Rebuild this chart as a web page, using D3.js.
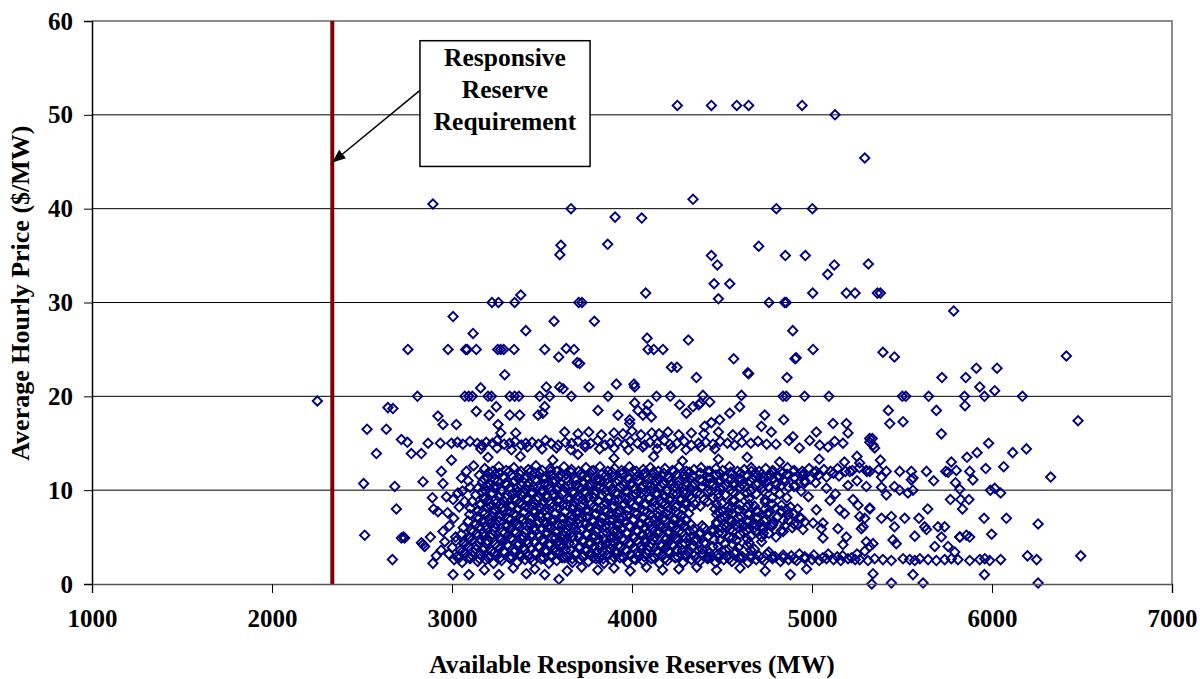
<!DOCTYPE html>
<html>
<head>
<meta charset="utf-8">
<script src="https://cdn.jsdelivr.net/npm/d3@7"></script>
<style>
  body { margin: 0; background: #fff; }
  svg text { font-family: "Liberation Serif", "Times New Roman", serif; font-weight: bold; fill: #000; }
</style>
</head>
<body>
<div id="chart"></div>
<script>
var width = 1200, height = 679;
var margin = {left: 92, right: 28, top: 21, bottom: 95};

var xTicks = [1000, 2000, 3000, 4000, 5000, 6000, 7000];
var yTicks = [0, 10, 20, 30, 40, 50, 60];
var xTitle = "Available Responsive Reserves (MW)";
var yTitle = "Average Hourly Price ($/MW)";
var requirement = 2335;
var noteLines = ["Responsive", "Reserve", "Requirement"];
var noteBox = {x0: 2822, x1: 3767, y0: 57.9, y1: 44.5, arrowFromY: 52.6, arrowToX: 2340, arrowToY: 45};

// sparse high prices
var outliers = [[2252,19.5],[2808,20.0],[2644,18.8],[2672,18.7],[2894,40.5],[3661,40.0],[3605,36.1],[3599,35.1],[3222,30.0],[3258,30.0],[3348,30.0],[3382,30.8],[3704,30.0],[3006,28.5],[3117,26.7],[3410,27.0],[3567,28.0],[2755,25.0],[2978,25.0],[3076,25.0],[3085,25.0],[3135,25.0],[3254,25.0],[3270,25.0],[3287,25.0],[3345,25.0],[3515,25.0],[3635,25.1],[3678,25.0],[3593,24.2],[3696,23.6],
[4252,51.0],[4441,51.0],[4582,51.0],[4648,51.0],[4945,51.0],[5128,50.0],[5293,45.4],[4339,41.0],[4802,40.0],[5002,40.0],[3906,39.1],[4054,39.0],[3865,36.2],[4704,36.0],[4441,35.0],[4474,34.0],[4852,35.0],[4963,35.0],[5124,34.0],[5087,33.0],[5313,34.1],[4456,32.0],[4543,32.0],[4480,30.4],[4076,31.0],[3722,30.0],[4761,30.0],[4848,30.0],[4857,30.0],[5004,31.0],[5191,31.0],[5239,31.0],[5363,31.0],[5380,31.0],[3791,28.0],[4084,26.2],[4089,25.0],[4121,25.0],[4172,25.0],[4313,26.0],[4893,27.0],[5006,25.0],[4565,24.0],[4906,24.0],[4912,24.1],[4219,23.1],[4250,23.1],[3709,23.5],[4643,22.5],
[5787,29.1],[5394,24.7],[5458,24.2],[5913,23.0],[6028,23.0],[6413,24.3],[5722,22.0],[5854,22.0],[5932,21.0],[6015,20.6],[5502,20.0],[5521,20.0],[5648,20.0],[5847,20.0],[5958,20.0],[6169,20.0],[5424,18.5],[5691,18.5],[5850,19.0],[5432,17.1],[5506,17.3],[6478,17.4],[5719,16.0],
[3159,20.9],[3071,20.0],[3093,20.0],[3113,20.0],[3200,20.0],[3219,20.0],[3321,20.0],[3348,20.0],[3372,20.0],[3293,22.3],[3135,18.4],[3206,18.0],[3246,18.9],[3321,18.0],[3376,18.0],[3487,20.0],[3543,20.0],[3524,21.0],[3598,21.0],[3617,20.8],[3515,18.9],[3478,18.0],[3505,18.2],[3663,20.0],[2922,17.9],[2950,17.0],[3024,17.0],[3256,17.0],
[4358,22.0],[4648,22.4],[4861,22.0],[3761,21.0],[3913,21.3],[4011,21.3],[4015,21.0],[3867,20.0],[3811,18.5],[3922,18.0],[3987,17.5],[3987,17.1],[4015,19.3],[4089,19.1],[4136,20.0],[4213,20.0],[4033,18.5],[4080,18.4],[4108,17.8],[4061,18.0],[4265,19.1],[4302,18.2],[4339,18.9],[4371,19.1],[4380,19.3],[4543,18.2],[4598,18.9],[4487,17.5],[4441,17.2],[4404,16.8],[4737,18.0],[4843,17.5],[4719,16.8],[4774,16.2],[5024,16.2],[5117,17.1],[5191,17.1],[5200,16.1],
[4839,20.0],[4857,20.0],[4959,20.0],[5094,20.0],[4608,20.1],[4394,20.1],[4432,19.4]];

// band around 15
var band15 = [[2528,16.5],[2635,16.5],[2580,13.9],[2719,15.4],[2752,15.1],[2774,13.9],[2830,13.9],[2867,15.0],[2935,15.0],[2997,15.0],[3271,16.1],[3354,16.1],[3626,16.2],
[3030,15.1],[3060,14.9],[3100,15.2],[3140,15.0],[3165,14.8],[3190,15.1],[3225,15.0],[3250,15.3],[3290,14.9],[3320,15.0],[3350,15.2],[3385,14.8],[3410,15.0],[3445,15.1],[3480,14.9],[3520,15.3],[3550,15.0],[3590,14.8],[3630,15.1],[3665,15.0],[3700,15.2],[3740,14.9],[3770,15.0],[3810,15.3],[3850,14.8],[3880,15.0],[3920,15.1],[3960,14.9],[3990,15.2],[4030,15.0],[4070,14.8],[4100,15.1],[4140,15.0],[4180,15.3],[4210,14.9],[4250,15.0],[4290,15.2],[4330,14.8],[4370,15.0],[4410,15.1],[4450,14.9],[4490,15.2],[4530,15.0],[4570,14.8],[4610,15.1],[4660,15.0],[4700,15.2],[4748,14.9],
[3700,16.0],[3760,16.2],[3830,15.9],[3900,16.1],[3950,16.0],[4000,16.3],[4050,15.9],[4110,16.1],[4150,16.0],[4200,16.2],[4260,15.9],[4330,16.1],[4400,16.0],[4480,16.2],[4560,15.9],[4620,16.1],
[3160,14.4],[3250,14.5],[3330,14.3],[3420,14.6],[3500,14.4],[3580,14.5],[3660,14.3],[3740,14.6],[3820,14.4],[3900,14.5],[3980,14.3],[4060,14.6],[4140,14.4],[4220,14.5],[4300,14.3],[4380,14.6],[4460,14.4],
[4872,15.3],[4894,15.7],[4987,15.3],[5043,14.8],[5126,15.2],[5089,14.6],[5172,15.0],[5320,15.5],[5339,14.8],[5335,15.5],[5321,15.1],[5348,14.5],[4800,14.9],[4930,14.5],
[2997,13.2],[3200,13.5],[3380,13.6],[3560,13.2],[3700,13.8],[3900,13.4],[4120,13.6],[4280,13.1],[4480,13.3],[4640,13.5],[4820,13.0],[5040,13.3],[5180,13.0],[5250,13.6],[5380,13.2]];

// dense body, upper half
var coreUpper = [[3182,12.3],[3226,12.0],[3260,12.5],[3301,12.1],[3344,12.4],[3383,12.0],[3424,12.2],[3466,12.6],[3502,12.1],[3546,12.3],[3583,12.0],[3622,12.5],[3664,12.2],[3703,12.0],[3744,12.4],[3785,12.1],[3822,12.5],[3866,12.0],[3903,12.3],[3942,12.1],[3986,12.5],[4024,12.0],[4063,12.2],[4102,12.4],[4146,12.0],[4183,12.3],[4224,12.1],[4262,12.5],[4303,12.0],[4345,12.2],[4384,12.4],[4421,12.0],[4466,12.3],[4503,12.1],[4542,12.5],[4586,12.0],[4624,12.2],[4662,12.4],[4706,12.0],[4743,12.3],[4782,12.1],[4826,12.0],[4864,12.4],[4902,12.1],[4946,12.0],[4984,12.3],[5022,12.0],[5066,12.2],[5103,12.0],[5142,12.3],[5186,12.0],[5224,12.1],[5263,12.4],[5305,12.0],[5370,12.2],
[3152,11.6],[3196,11.3],[3238,11.7],[3283,11.4],[3328,11.6],[3371,11.2],[3416,11.5],[3461,11.8],[3504,11.3],[3549,11.6],[3592,11.4],[3636,11.7],[3681,11.2],[3723,11.5],[3766,11.8],[3811,11.3],[3856,11.6],[3897,11.4],[3941,11.7],[3986,11.2],[4031,11.5],[4073,11.8],[4116,11.3],[4161,11.6],[4204,11.4],[4249,11.7],[4291,11.2],[4336,11.5],[4381,11.8],[4423,11.3],[4466,11.6],[4511,11.4],[4556,11.7],[4597,11.2],[4641,11.5],[4686,11.8],[4731,11.3],[4773,11.6],[4816,11.4],[4861,11.7],[4906,11.3],[4947,11.5],[4991,11.2],[5036,11.6],[5081,11.4],[5150,11.5],
[3170,10.9],[3214,10.6],[3255,11.0],[3297,10.7],[3342,10.9],[3385,10.5],[3427,10.8],[3474,11.0],[3516,10.6],[3558,10.9],[3604,10.7],[3647,11.0],[3690,10.5],[3734,10.8],[3777,10.6],[3822,11.0],[3865,10.7],[3908,10.9],[3953,10.5],[3996,10.8],[4038,11.0],[4083,10.6],[4127,10.9],[4170,10.7],[4214,11.0],[4257,10.5],[4302,10.8],[4346,10.6],[4390,11.0],[4433,10.7],[4478,10.9],[4520,10.5],[4566,10.8],[4610,10.6],[4655,11.0],[4702,10.7],[4750,10.9],[4800,10.6],[4850,10.9],[4905,10.5],[4960,10.8],
[3143,10.2],[3188,9.9],[3230,10.3],[3274,10.0],[3318,10.2],[3362,9.8],[3405,10.1],[3450,10.4],[3494,9.9],[3537,10.2],[3581,10.0],[3626,10.3],[3669,9.8],[3712,10.1],[3757,10.4],[3800,9.9],[3844,10.2],[3888,10.0],[3932,10.3],[3976,9.8],[4019,10.1],[4064,10.4],[4107,9.9],[4151,10.2],[4195,10.0],[4239,10.3],[4283,9.8],[4330,10.1],[4385,10.3],[4440,9.9],[4492,10.2],[4545,10.0],[4600,10.3],[4660,9.9],[4720,10.2],[4790,10.0],[4870,10.3],[4940,9.9],
[3132,9.5],[3176,9.2],[3219,9.6],[3263,9.3],[3307,9.5],[3350,9.1],[3394,9.4],[3439,9.7],[3482,9.2],[3526,9.5],[3570,9.3],[3614,9.6],[3658,9.1],[3701,9.4],[3745,9.7],[3789,9.2],[3833,9.5],[3876,9.3],[3921,9.6],[3964,9.1],[4008,9.4],[4052,9.7],[4096,9.2],[4140,9.5],[4184,9.3],[4228,9.6],[4272,9.1],[4320,9.4],[4380,9.6],[4450,9.2],[4520,9.5],[4600,9.3],[4690,9.6],[4780,9.2],
[3112,8.8],[3157,8.5],[3200,8.9],[3244,8.6],[3288,8.8],[3331,8.4],[3375,8.7],[3420,9.0],[3463,8.5],[3507,8.8],[3551,8.6],[3595,8.9],[3639,8.4],[3682,8.7],[3726,9.0],[3770,8.5],[3814,8.8],[3858,8.6],[3902,8.9],[3945,8.4],[3989,8.7],[4033,9.0],[4077,8.5],[4121,8.8],[4165,8.6],[4209,8.9],[4253,8.4],[4297,8.7],[4350,8.5],[4420,8.8],[4500,8.6],[4570,8.9],[4650,8.5],[4740,8.7],[4830,8.4]];

// dense body, lower half
var coreLower = [[3102,8.1],[3146,7.8],[3190,8.2],[3233,7.9],[3277,8.1],[3321,7.7],[3365,8.0],[3409,8.3],[3452,7.8],[3497,8.1],[3540,7.9],[3584,8.2],[3628,7.7],[3672,8.0],[3716,8.3],[3759,7.8],[3803,8.1],[3848,7.9],[3891,8.2],[3935,7.7],[3979,8.0],[4023,8.3],[4066,7.8],[4110,8.1],[4154,7.9],[4198,8.2],[4242,7.7],[4286,8.0],[4330,8.2],[4460,8.0],[4505,7.8],[4550,8.1],[4595,7.9],[4640,8.2],[4690,7.8],[4740,8.0],[4800,8.1],[4860,7.9],[4920,8.0],
[3098,7.4],[3138,7.1],[3182,7.5],[3225,7.2],[3269,7.4],[3313,7.0],[3357,7.3],[3401,7.6],[3444,7.1],[3489,7.4],[3532,7.2],[3576,7.5],[3620,7.0],[3664,7.3],[3708,7.6],[3751,7.1],[3795,7.4],[3840,7.2],[3883,7.5],[3927,7.0],[3971,7.3],[4015,7.6],[4058,7.1],[4102,7.4],[4146,7.2],[4190,7.5],[4234,7.0],[4278,7.3],[4315,7.5],[4470,7.4],[4515,7.1],[4560,7.5],[4605,7.2],[4650,7.4],[4700,7.1],[4750,7.5],[4810,7.2],[4870,7.4],[4930,7.1],
[3090,6.7],[3132,6.4],[3176,6.8],[3219,6.5],[3263,6.7],[3307,6.3],[3351,6.6],[3395,6.9],[3438,6.4],[3482,6.7],[3526,6.5],[3570,6.8],[3614,6.3],[3658,6.6],[3702,6.9],[3745,6.4],[3789,6.7],[3834,6.5],[3877,6.8],[3921,6.3],[3965,6.6],[4009,6.9],[4052,6.4],[4096,6.7],[4140,6.5],[4184,6.8],[4228,6.3],[4272,6.6],[4300,6.9],[4470,6.6],[4512,6.3],[4556,6.7],[4600,6.4],[4645,6.6],[4690,6.3],[4735,6.7],[4785,6.5],[4840,6.8],[4900,6.4],[4960,6.6],
[3062,6.0],[3106,5.7],[3150,6.1],[3193,5.8],[3237,6.0],[3281,5.6],[3325,5.9],[3369,6.2],[3412,5.7],[3456,6.0],[3500,5.8],[3544,6.1],[3588,5.6],[3632,5.9],[3676,6.2],[3719,5.7],[3763,6.0],[3808,5.8],[3851,6.1],[3895,5.6],[3939,5.9],[3983,6.2],[4026,5.7],[4070,6.0],[4114,5.8],[4158,6.1],[4202,5.6],[4246,5.9],[4290,6.2],[4340,5.8],[4400,6.0],[4455,5.7],[4500,6.0],[4545,5.8],[4590,6.1],[4635,5.7],[4680,6.0],[4725,5.8],[4775,6.1],[4830,5.7],[4890,6.0],[4950,5.8],
[3052,5.3],[3094,5.0],[3138,5.4],[3181,5.1],[3225,5.3],[3269,4.9],[3313,5.2],[3357,5.5],[3400,5.0],[3444,5.3],[3488,5.1],[3532,5.4],[3576,4.9],[3620,5.2],[3664,5.5],[3707,5.0],[3751,5.3],[3796,5.1],[3839,5.4],[3883,4.9],[3927,5.2],[3971,5.5],[4014,5.0],[4058,5.3],[4102,5.1],[4146,5.4],[4190,4.9],[4234,5.2],[4278,5.5],[4325,5.0],[4375,5.3],[4425,5.1],[4480,5.4],[4540,5.0],[4600,5.3],[4660,5.1],[4730,5.4],[4800,5.0],
[3022,4.6],[3066,4.3],[3110,4.7],[3153,4.4],[3197,4.6],[3241,4.2],[3285,4.5],[3329,4.8],[3372,4.3],[3416,4.6],[3460,4.4],[3504,4.7],[3548,4.2],[3592,4.5],[3636,4.8],[3679,4.3],[3723,4.6],[3768,4.4],[3811,4.7],[3855,4.2],[3899,4.5],[3943,4.8],[3986,4.3],[4030,4.6],[4074,4.4],[4118,4.7],[4162,4.2],[4206,4.5],[4250,4.8],[4295,4.3],[4345,4.6],[4400,4.4],[4455,4.7],[4515,4.3],[4580,4.6],[4650,4.4],[4720,4.5],
[3002,3.9],[3046,3.6],[3090,4.0],[3133,3.7],[3177,3.9],[3221,3.5],[3265,3.8],[3309,4.1],[3352,3.6],[3396,3.9],[3440,3.7],[3484,4.0],[3528,3.5],[3572,3.8],[3616,4.1],[3659,3.6],[3703,3.9],[3748,3.7],[3791,4.0],[3835,3.5],[3879,3.8],[3923,4.1],[3966,3.6],[4010,3.9],[4054,3.7],[4098,4.0],[4142,3.5],[4186,3.8],[4230,4.1],[4280,3.6],[4335,3.9],[4390,3.7],[4450,4.0],[4520,3.6],[4590,3.9],[4680,3.7],
[2982,3.2],[3026,2.9],[3070,3.3],[3113,3.0],[3157,3.2],[3201,2.8],[3245,3.1],[3289,3.4],[3332,2.9],[3376,3.2],[3420,3.0],[3464,3.3],[3508,2.8],[3552,3.1],[3596,3.4],[3639,2.9],[3683,3.2],[3728,3.0],[3771,3.3],[3815,2.8],[3859,3.1],[3903,3.4],[3946,2.9],[3990,3.2],[4034,3.0],[4078,3.3],[4122,2.8],[4166,3.1],[4210,3.4],[4255,2.9],[4300,3.2],[4345,3.0],[4390,3.3],[4435,2.9],[4480,3.2],[4525,3.0],[4570,3.3],[4615,2.9],[4660,3.1],[4705,3.0],[4750,3.2],[4795,2.9],[4840,3.1],[4885,3.0],[4930,3.2],
[3012,2.6],[3056,2.3],[3100,2.7],[3143,2.4],[3187,2.6],[3231,2.2],[3275,2.5],[3319,2.8],[3362,2.3],[3406,2.6],[3450,2.4],[3494,2.7],[3538,2.2],[3582,2.5],[3626,2.8],[3669,2.3],[3713,2.6],[3758,2.4],[3801,2.7],[3845,2.2],[3889,2.5],[3933,2.8],[3976,2.3],[4020,2.6],[4064,2.4],[4108,2.7],[4152,2.2],[4196,2.5],[4240,2.8],[4285,2.3],[4330,2.6],[4375,2.4],[4420,2.7],[4465,2.3],[4510,2.6],[4555,2.4],[4600,2.7],[4645,2.3],[4690,2.6],[4735,2.5],[4780,2.7],[4825,2.4],[4870,2.6],[4915,2.5],[4960,2.7],[5000,2.6],[5040,2.5],[5080,2.7],[5120,2.6],[5160,2.5],[5200,2.7],[5240,2.6],
[3006,1.0],[3094,1.0],[3261,1.0],[3413,1.1],[3515,1.0],[3594,0.5],[3180,1.5],[3340,1.7],[3460,1.6],[3640,1.4],[3720,1.8],[3810,1.5],[3900,1.7],[3990,1.4],[4080,1.8],[4170,1.5],[4260,1.6],[4360,1.8],[4470,1.5],[4600,1.7],[4740,1.4],[4880,1.0],[4970,1.6]];

// in-between hours that fill the dense body
var coreFill = [[3205,11.9],[3262,11.8],[3318,12.0],[3377,11.7],[3433,11.9],[3490,11.8],[3548,12.0],[3604,11.7],[3661,11.9],[3720,11.8],[3776,12.0],[3833,11.7],[3890,11.9],[3948,11.8],[4005,12.0],[4062,11.7],[4118,11.9],[4176,11.8],[4233,12.0],[4290,11.7],
[3178,11.2],[3235,11.1],[3291,11.3],[3350,11.0],[3406,11.2],[3463,11.1],[3521,11.3],[3577,11.0],[3634,11.2],[3693,11.1],[3749,11.3],[3806,11.0],[3863,11.2],[3921,11.1],[3978,11.3],[4035,11.0],[4091,11.2],[4149,11.1],[4206,11.3],[4263,11.0],
[3192,10.5],[3249,10.4],[3305,10.6],[3364,10.3],[3420,10.5],[3477,10.4],[3535,10.6],[3591,10.3],[3648,10.5],[3707,10.4],[3763,10.6],[3820,10.3],[3877,10.5],[3935,10.4],[3992,10.6],[4049,10.3],[4105,10.5],[4163,10.4],[4220,10.6],[4277,10.3],
[3165,9.8],[3222,9.7],[3278,9.9],[3337,9.6],[3393,9.8],[3450,9.7],[3508,9.9],[3564,9.6],[3621,9.8],[3680,9.7],[3736,9.9],[3793,9.6],[3850,9.8],[3908,9.7],[3965,9.9],[4022,9.6],[4078,9.8],[4136,9.7],[4193,9.9],[4250,9.6],
[3185,9.1],[3242,9.0],[3298,9.2],[3357,8.9],[3413,9.1],[3470,9.0],[3528,9.2],[3584,8.9],[3641,9.1],[3700,9.0],[3756,9.2],[3813,8.9],[3870,9.1],[3928,9.0],[3985,9.2],[4042,8.9],[4098,9.1],[4156,9.0],[4213,9.2],[4270,8.9],
[3158,8.4],[3215,8.3],[3271,8.5],[3330,8.2],[3386,8.4],[3443,8.3],[3501,8.5],[3557,8.2],[3614,8.4],[3673,8.3],[3729,8.5],[3786,8.2],[3843,8.4],[3901,8.3],[3958,8.5],[4015,8.2],[4071,8.4],[4129,8.3],[4186,8.5],[4243,8.2],
[3172,7.7],[3229,7.6],[3285,7.8],[3344,7.5],[3400,7.7],[3457,7.6],[3515,7.8],[3571,7.5],[3628,7.7],[3687,7.6],[3743,7.8],[3800,7.5],[3857,7.7],[3915,7.6],[3972,7.8],[4029,7.5],[4085,7.7],[4143,7.6],[4200,7.8],[4257,7.5],
[3150,7.0],[3207,6.9],[3263,7.1],[3322,6.8],[3378,7.0],[3435,6.9],[3493,7.1],[3549,6.8],[3606,7.0],[3665,6.9],[3721,7.1],[3778,6.8],[3835,7.0],[3893,6.9],[3950,7.1],[4007,6.8],[4063,7.0],[4121,6.9],[4178,7.1],[4235,6.8],
[3130,6.3],[3187,6.2],[3243,6.4],[3302,6.1],[3358,6.3],[3415,6.2],[3473,6.4],[3529,6.1],[3586,6.3],[3645,6.2],[3701,6.4],[3758,6.1],[3815,6.3],[3873,6.2],[3930,6.4],[3987,6.1],[4043,6.3],[4101,6.2],[4158,6.4],[4215,6.1],[4272,6.3],
[3118,5.6],[3175,5.5],[3231,5.7],[3290,5.4],[3346,5.6],[3403,5.5],[3461,5.7],[3517,5.4],[3574,5.6],[3633,5.5],[3689,5.7],[3746,5.4],[3803,5.6],[3861,5.5],[3918,5.7],[3975,5.4],[4031,5.6],[4089,5.5],[4146,5.7],[4203,5.4],[4260,5.6],
[3100,4.9],[3157,4.8],[3213,5.0],[3272,4.7],[3328,4.9],[3385,4.8],[3443,5.0],[3499,4.7],[3556,4.9],[3615,4.8],[3671,5.0],[3728,4.7],[3785,4.9],[3843,4.8],[3900,5.0],[3957,4.7],[4013,4.9],[4071,4.8],[4128,5.0],[4185,4.7],[4242,4.9],
[3080,4.2],[3137,4.1],[3193,4.3],[3252,4.0],[3308,4.2],[3365,4.1],[3423,4.3],[3479,4.0],[3536,4.2],[3595,4.1],[3651,4.3],[3708,4.0],[3765,4.2],[3823,4.1],[3880,4.3],[3937,4.0],[3993,4.2],[4051,4.1],[4108,4.3],[4165,4.0],[4222,4.2],
[3060,3.5],[3117,3.4],[3173,3.6],[3232,3.3],[3288,3.5],[3345,3.4],[3403,3.6],[3459,3.3],[3516,3.5],[3575,3.4],[3631,3.6],[3688,3.3],[3745,3.5],[3803,3.4],[3860,3.6],[3917,3.3],[3973,3.5],[4031,3.4],[4088,3.6],[4145,3.3],[4202,3.5],
[3040,2.8],[3097,2.9],[3153,2.7],[3212,2.9],[3268,2.8],[3325,2.7],[3383,2.9],[3439,2.8],[3496,2.7],[3555,2.9],[3611,2.8],[3668,2.7],[3725,2.9],[3783,2.8],[3840,2.7],[3897,2.9],[3953,2.8],[4011,2.7],[4068,2.9],[4125,2.8],[4182,2.7]];

// in-between hours, 4300-5200 MW
var eastFill = [[4320,11.9],[4377,11.8],[4433,12.0],[4492,11.7],[4548,11.9],[4605,11.8],[4663,12.0],[4720,11.7],[4778,11.9],[4835,11.8],[4893,12.0],[4950,11.7],[5010,11.9],[5120,11.8],[5210,12.0],
[4320,11.2],[4378,11.1],[4436,11.3],[4494,11.0],[4552,11.2],[4610,11.1],[4668,11.3],[4726,11.0],[4784,11.2],[4842,11.1],[4900,11.3],[4960,11.0],
[4334,10.5],[4392,10.4],[4450,10.6],[4508,10.3],[4566,10.5],[4624,10.4],[4690,10.6],[4760,10.3],[4830,10.5],[4900,10.4],
[4305,9.8],[4360,9.7],[4420,9.9],[4480,9.6],[4560,9.8],[4640,9.7],[4730,9.9],[4820,9.6],
[4330,9.1],[4400,9.0],[4480,9.2],[4560,8.9],[4650,9.1],[4740,9.0],[4860,9.2],
[4300,8.4],[4380,8.3],[4470,8.5],[4530,8.2],[4600,8.4],[4680,8.3],[4780,8.5],[4880,8.2],
[4480,7.7],[4535,7.6],[4590,7.8],[4645,7.5],[4700,7.7],[4760,7.6],[4830,7.8],[4900,7.5],
[4490,7.0],[4540,6.9],[4590,7.1],[4640,6.8],[4690,7.0],[4745,6.9],[4805,7.1],[4870,6.8],[4940,7.0],
[4330,6.3],[4390,6.2],[4470,6.4],[4525,6.1],[4575,6.3],[4625,6.2],[4675,6.4],[4725,6.1],[4780,6.3],[4850,6.2],[4920,6.4],
[4320,5.6],[4380,5.5],[4440,5.7],[4500,5.4],[4560,5.6],[4620,5.5],[4690,5.7],[4760,5.4],[4840,5.6],
[4300,4.9],[4360,4.8],[4420,5.0],[4490,4.7],[4560,4.9],[4640,4.8],[4720,5.0],
[4280,4.2],[4340,4.1],[4410,4.3],[4480,4.0],[4560,4.2],[4640,4.1],
[4250,3.5],[4310,3.4],[4370,3.6],[4430,3.3],[4500,3.5],[4580,3.4],[4660,3.6],[4760,3.4],
[4240,2.8],[4300,2.9],[4360,2.7],[4420,2.9],[4480,2.8],[4540,2.7],[4600,2.9],[4660,2.8],[4720,2.7],[4780,2.9],[4840,2.8],[4900,2.7],[4960,2.9],[5060,2.8],[5140,2.9],[5220,2.8]];

// left fringe below 13
var westEdge = [[2509,10.7],[2682,10.4],[2691,8.0],[2515,5.2],[2719,4.9],[2737,4.9],[2730,5.0],[2669,2.6],[2839,10.9],[2941,12.0],[2950,10.7],[3080,12.0],[3052,11.3],[2891,9.2],[2898,8.0],[2922,7.7],[2969,9.3],[3006,9.0],[3033,9.7],[3058,9.9],[2839,4.2],[2848,4.0],[2830,4.4],[2894,2.2],[2913,3.0],[2960,4.5],[2950,5.6],[2985,6.2],[3010,7.0],[2975,7.6],[3040,8.2],[3070,8.8],[3020,5.0],[2940,3.6],[2880,5.0],[3120,12.6],[3100,10.3],[3090,11.0]];

// right fringe below 15
var eastEdge = [[5265,12.9],[5302,12.1],[5321,12.0],[5386,11.4],[5413,12.0],[5487,12.0],[5552,12.0],[5561,11.3],[5552,11.1],[5636,12.0],[5676,11.0],[5743,12.0],[5756,11.9],
[5302,10.4],[5386,10.3],[5458,10.4],[5487,10.0],[5533,9.7],[5561,10.0],[5413,9.5],
[5321,8.0],[5265,7.2],[5386,7.0],[5441,7.2],[5284,6.1],[5458,6.1],[5515,7.0],[5594,7.0],[5626,6.1],[5636,5.8],[5571,5.1],[5450,4.7],[5468,4.3],
[5700,6.1],[5737,6.1],[5719,5.0],[5682,4.0],[5756,4.0],[5821,5.0],[5876,5.0],[5793,3.4],[5302,4.5],[5339,4.3],[5321,4.0],[5293,3.5],
[5265,2.6],[5311,2.5],[5348,2.7],[5394,2.6],[5441,2.5],[5506,2.7],[5543,2.6],[5571,2.5],[5599,2.7],[5645,2.6],[5691,2.5],[5737,2.6],[5774,2.7],[5811,2.6],[5876,2.5],[5932,2.6],[5960,2.7],[5987,2.5],[6048,2.6],
[5339,1.1],[5561,1.0],[5617,0.1],[5441,0.1],[5332,0.0],[5958,1.0],[6256,0.1],
[5861,13.5],[5917,14.0],[5774,13.0],[6065,12.5],[5965,12.3],[6326,11.4],[5876,12.0],[5894,11.1],[5802,12.1],[5797,10.8],[5821,10.1],[5991,10.0],[6015,10.2],[6048,9.7],[5769,9.0],[5826,9.0],[5872,9.0],[5836,8.0],[5643,8.0],[5956,7.0],[6080,7.0],[6256,6.4],[5998,5.3],[5822,5.0],[5858,5.2],[6493,3.0],[6197,3.0],[6248,2.6],[6115,14.0],[6191,14.4],[5981,15.0],
[5024,7.9],[5154,7.9],[5180,7.5],[5061,6.5],[5006,6.5],[5052,5.9],[5061,4.9],[5144,5.9],[5191,5.0],[5172,4.2],[5274,5.9],[5293,7.0],[5321,8.1],[5228,9.0],[5256,8.4],
[5020,10.8],[5080,10.2],[5130,9.6],[5200,10.5],[5250,11.0],[5100,8.9],[4980,9.3],[5010,3.1],[5090,3.2],[5170,3.0],[5250,3.2]];

var points = [].concat(outliers, band15, coreUpper, coreLower, coreFill, eastFill, westEdge, eastEdge);

var svg = d3.select("#chart").append("svg")
    .attr("width", width)
    .attr("height", height);

var x = d3.scaleLinear().domain([1000, 7000]).range([margin.left, width - margin.right]);
var y = d3.scaleLinear().domain([0, 60]).range([height - margin.bottom, margin.top]);

// gridlines
svg.append("g").selectAll("line")
    .data(yTicks.filter(function(d) { return d > 0 && d < 60; }))
    .enter().append("line")
    .attr("x1", x(1000)).attr("x2", x(7000))
    .attr("y1", function(d) { return y(d); })
    .attr("y2", function(d) { return y(d); })
    .attr("stroke", "#000").attr("stroke-width", 1);

// plot border (top & right in grey)
svg.append("path")
    .attr("d", "M" + x(1000) + "," + y(60) + "H" + x(7000) + "V" + y(0))
    .attr("fill", "none").attr("stroke", "#8c8c8c").attr("stroke-width", 2);

// requirement line
svg.append("line")
    .attr("x1", x(requirement)).attr("x2", x(requirement))
    .attr("y1", y(0)).attr("y2", y(60))
    .attr("stroke", "#800000").attr("stroke-width", 4);

// points
var diamond = d3.symbol().type(d3.symbolSquare).size(44);
svg.append("g").selectAll("path")
    .data(points)
    .enter().append("path")
    .attr("d", diamond)
    .attr("transform", function(d) { return "translate(" + x(d[0]) + "," + y(d[1]) + ") rotate(45)"; })
    .attr("fill", "none")
    .attr("stroke", "#000080")
    .attr("stroke-width", 1.9);

// axes
var xAxis = svg.append("g")
    .attr("transform", "translate(0," + y(0) + ")")
    .call(d3.axisBottom(x).tickValues(xTicks).tickSize(9).tickPadding(16).tickFormat(d3.format("d")));
xAxis.select(".domain").attr("stroke", "#555").attr("stroke-width", 1.5);
xAxis.selectAll(".tick line").attr("stroke", "#000");
xAxis.selectAll("text").style("font-size", "25px");

var yAxis = svg.append("g")
    .attr("transform", "translate(" + x(1000) + ",0)")
    .call(d3.axisLeft(y).tickValues(yTicks).tickSize(8).tickPadding(11));
yAxis.select(".domain").attr("stroke", "#000").attr("stroke-width", 1.5);
yAxis.selectAll(".tick line").attr("stroke", "#000");
yAxis.selectAll("text").style("font-size", "25px");

svg.append("text")
    .attr("x", (x(1000) + x(7000)) / 2)
    .attr("y", 673)
    .attr("text-anchor", "middle")
    .style("font-size", "25.5px")
    .text(xTitle);

svg.append("text")
    .attr("transform", "translate(29," + y(31) + ") rotate(-90)")
    .attr("text-anchor", "middle")
    .style("font-size", "26px")
    .text(yTitle);

// annotation
svg.append("defs").append("marker")
    .attr("id", "arrow")
    .attr("viewBox", "0 0 10 10")
    .attr("refX", 9).attr("refY", 5)
    .attr("markerWidth", 9).attr("markerHeight", 9)
    .attr("orient", "auto")
    .append("path").attr("d", "M0,1 L10,5 L0,9 z").attr("fill", "#000");

svg.append("line")
    .attr("x1", x(noteBox.x0)).attr("y1", y(noteBox.arrowFromY))
    .attr("x2", x(noteBox.arrowToX)).attr("y2", y(noteBox.arrowToY))
    .attr("stroke", "#000").attr("stroke-width", 1.5)
    .attr("marker-end", "url(#arrow)");

svg.append("rect")
    .attr("x", x(noteBox.x0)).attr("y", y(noteBox.y0))
    .attr("width", x(noteBox.x1) - x(noteBox.x0))
    .attr("height", y(noteBox.y1) - y(noteBox.y0))
    .attr("fill", "#fff").attr("stroke", "#000").attr("stroke-width", 1.5);

svg.append("g").selectAll("text")
    .data(noteLines)
    .enter().append("text")
    .attr("x", (x(noteBox.x0) + x(noteBox.x1)) / 2)
    .attr("y", function(d, i) { return y(noteBox.y0) + 25 + i * 32; })
    .attr("text-anchor", "middle")
    .style("font-size", "25.5px")
    .text(function(d) { return d; });
</script>
</body>
</html>
